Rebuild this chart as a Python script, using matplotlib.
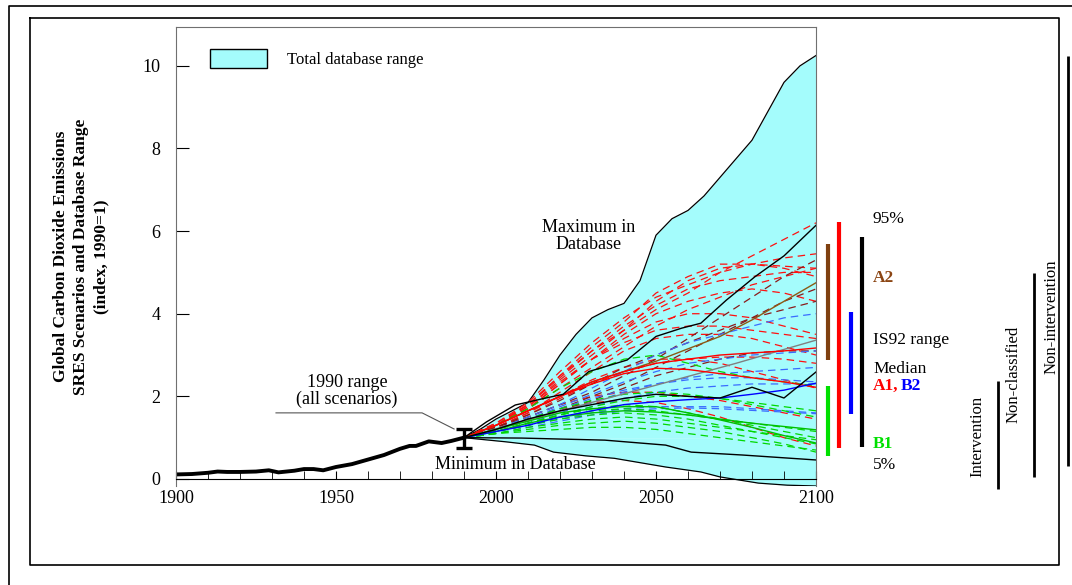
import matplotlib
matplotlib.use('Agg')
import matplotlib.pyplot as plt
from matplotlib.lines import Line2D

plt.rcParams['font.family'] = ['Liberation Serif', 'DejaVu Serif']

# historical emissions index, 1900-1990
HIST_YEARS = [1900, 1905, 1910, 1913, 1916, 1920, 1925, 1929, 1932, 1937, 1940, 1943,
              1946, 1950, 1955, 1960, 1965, 1970, 1973, 1975, 1979, 1983, 1986, 1990]
HIST_VALS = [0.11, 0.12, 0.15, 0.18, 0.17, 0.17, 0.18, 0.21, 0.16, 0.20, 0.24, 0.24,
             0.21, 0.29, 0.36, 0.47, 0.58, 0.73, 0.80, 0.80, 0.91, 0.87, 0.92, 1.00]

# total database range
MAX_YEARS = [1990, 1995, 2000, 2005, 2010, 2015, 2020, 2025, 2030, 2035, 2040, 2045,
             2050, 2055, 2060, 2065, 2070, 2075, 2080, 2085, 2090, 2095, 2100]
MAX_VALS = [1.0, 1.2, 1.45, 1.65, 1.85, 2.4, 3.0, 3.5, 3.9, 4.1, 4.25, 4.8,
            5.9, 6.3, 6.5, 6.85, 7.3, 7.75, 8.2, 8.9, 9.6, 10.0, 10.25]
MIN_YEARS = [1990, 2003, 2012, 2018, 2028, 2037, 2053, 2064, 2070, 2082, 2091, 2100]
MIN_VALS = [1.0, 0.9, 0.82, 0.65, 0.56, 0.5, 0.29, 0.17, 0.05, -0.1, -0.15, -0.17]

YEARS = [1990, 2000, 2010, 2020, 2030, 2040, 2050, 2060, 2070, 2080, 2090, 2100]

A1_DASHED = [
  [1.0, 1.35, 1.8, 2.5, 3.1, 3.6, 4.1, 4.5, 5.0, 5.4, 5.8, 6.2],
  [1.0, 1.35, 1.85, 2.6, 3.3, 3.9, 4.4, 4.7, 5.0, 5.2, 5.35, 5.45],
  [1.0, 1.3, 1.75, 2.4, 3.0, 3.6, 4.3, 4.8, 5.1, 5.2, 5.15, 5.1],
  [1.0, 1.3, 1.8, 2.5, 3.2, 3.8, 4.5, 4.9, 5.2, 5.2, 5.1, 4.9],
  [1.0, 1.3, 1.7, 2.3, 2.9, 3.5, 4.0, 4.3, 4.5, 4.6, 4.5, 4.3],
  [1.0, 1.3, 1.7, 2.3, 2.9, 3.4, 3.8, 4.0, 4.0, 3.9, 3.7, 3.5],
  [1.0, 1.25, 1.6, 2.1, 2.6, 3.1, 3.4, 3.5, 3.5, 3.4, 3.2, 3.0],
  [1.0, 1.3, 1.7, 2.2, 2.7, 3.2, 3.7, 4.1, 4.4, 4.7, 4.9, 5.1],
  [1.0, 1.25, 1.55, 1.95, 2.3, 2.6, 2.8, 2.9, 2.95, 2.95, 2.9, 2.8],
  [1.0, 1.25, 1.6, 2.0, 2.4, 2.7, 2.9, 2.9, 2.8, 2.6, 2.4, 2.2],
  [1.0, 1.2, 1.5, 1.8, 2.0, 2.1, 2.1, 2.0, 1.9, 1.75, 1.6, 1.45],
  [1.0, 1.2, 1.45, 1.7, 1.85, 1.9, 1.85, 1.7, 1.5, 1.25, 1.0, 0.8],
  [1.0, 1.3, 1.75, 2.35, 2.9, 3.3, 3.6, 3.7, 3.7, 3.6, 3.5, 3.4],
  [1.0, 1.3, 1.8, 2.45, 3.1, 3.7, 4.2, 4.6, 4.8, 4.9, 5.0, 5.0],
]
A2_DASHED = [
  [1.0, 1.25, 1.5, 1.8, 2.1, 2.5, 2.9, 3.4, 3.9, 4.4, 4.9, 5.3],
  [1.0, 1.2, 1.45, 1.7, 2.0, 2.3, 2.7, 3.1, 3.5, 3.9, 4.3, 4.6],
  [1.0, 1.2, 1.4, 1.65, 1.9, 2.2, 2.5, 2.7, 2.9, 3.05, 3.1, 3.1],
  [1.0, 1.25, 1.55, 1.9, 2.3, 2.7, 3.0, 3.3, 3.6, 3.9, 4.1, 4.3],
]
B2_DASHED = [
  [1.0, 1.2, 1.5, 1.8, 2.2, 2.6, 3.0, 3.3, 3.5, 3.7, 3.9, 4.0],
  [1.0, 1.2, 1.45, 1.75, 2.05, 2.35, 2.6, 2.8, 2.9, 3.0, 3.05, 3.1],
  [1.0, 1.15, 1.35, 1.6, 1.85, 2.1, 2.3, 2.45, 2.55, 2.6, 2.65, 2.7],
  [1.0, 1.15, 1.35, 1.55, 1.75, 1.95, 2.1, 2.2, 2.25, 2.3, 2.3, 2.3],
  [1.0, 1.15, 1.3, 1.45, 1.6, 1.7, 1.75, 1.75, 1.75, 1.7, 1.65, 1.6],
  [1.0, 1.1, 1.25, 1.4, 1.55, 1.65, 1.7, 1.72, 1.7, 1.66, 1.62, 1.58],
  [1.0, 1.2, 1.45, 1.7, 1.95, 2.15, 2.3, 2.4, 2.45, 2.45, 2.4, 2.35],
]
B1_DASHED = [
  [1.0, 1.15, 1.35, 1.55, 1.7, 1.8, 1.75, 1.6, 1.45, 1.3, 1.15, 1.0],
  [1.0, 1.15, 1.3, 1.45, 1.55, 1.6, 1.55, 1.45, 1.3, 1.15, 1.0, 0.85],
  [1.0, 1.1, 1.25, 1.35, 1.45, 1.5, 1.45, 1.35, 1.25, 1.15, 1.05, 0.95],
  [1.0, 1.1, 1.2, 1.3, 1.35, 1.4, 1.35, 1.25, 1.15, 1.0, 0.85, 0.65],
  [1.0, 1.2, 1.45, 1.7, 1.9, 2.05, 2.1, 2.05, 1.95, 1.8, 1.65, 1.5],
  [1.0, 1.15, 1.35, 1.55, 1.75, 1.9, 2.0, 2.0, 1.95, 1.85, 1.75, 1.65],
  [1.0, 1.3, 1.7, 2.2, 2.6, 2.9, 3.0, 2.8, 2.6, 2.45, 2.35, 2.25],
  [1.0, 1.1, 1.15, 1.2, 1.25, 1.25, 1.2, 1.1, 1.0, 0.9, 0.8, 0.7],
  [1.0, 1.15, 1.3, 1.5, 1.65, 1.7, 1.65, 1.55, 1.45, 1.35, 1.25, 1.15],
]

# solid marker scenarios
BLACK_TOP_YEARS = [1990, 1997, 2006, 2015, 2021, 2029, 2041, 2050, 2058, 2064, 2072, 2081, 2090, 2100]
BLACK_TOP_VALS = [1.0, 1.38, 1.79, 1.95, 2.05, 2.6, 2.88, 3.45, 3.65, 3.77, 4.33, 4.9, 5.4, 6.14]
BLACK_MID_VALS = [1.0, 1.2, 1.45, 1.65, 1.8, 1.95, 2.05, 2.0, 1.96, 2.22, 1.96, 2.59]
BLACK_LOW_YEARS = [1990, 2008, 2034, 2053, 2061, 2077, 2100]
BLACK_LOW_VALS = [1.0, 0.99, 0.94, 0.82, 0.65, 0.58, 0.46]
BROWN_VALS = [1.0, 1.3, 1.65, 2.0, 2.35, 2.6, 2.85, 3.15, 3.45, 3.85, 4.3, 4.75]
GRAY_YEARS = [1990, 2025, 2050, 2075, 2100]
GRAY_VALS = [1.0, 1.75, 2.27, 2.8, 3.36]
RED_SOLID = [
  [1.0, 1.3, 1.65, 2.0, 2.35, 2.6, 2.8, 2.9, 3.0, 3.05, 3.1, 3.17],
  [1.0, 1.3, 1.65, 2.0, 2.3, 2.55, 2.68, 2.65, 2.55, 2.45, 2.35, 2.22],
]
BLUE_SOLID = [1.0, 1.15, 1.3, 1.5, 1.65, 1.8, 1.87, 1.92, 1.96, 2.05, 2.15, 2.32]
GREEN_SOLID = [
  [1.0, 1.2, 1.4, 1.6, 1.7, 1.75, 1.75, 1.6, 1.43, 1.25, 1.05, 0.87],
  [1.0, 1.15, 1.35, 1.5, 1.6, 1.65, 1.62, 1.55, 1.45, 1.35, 1.27, 1.19],
]

# 2100 ranges (x position, low, high, colour)
RANGE_X = [2103.75, 2107.2, 2110.9, 2114.4, 2103.75]
RANGE_LO = [2.88, 0.75, 1.57, 0.77, 0.56]
RANGE_HI = [5.68, 6.21, 4.04, 5.85, 2.25]
RANGE_COL = ['#7f4010', '#ff0000', '#0000ff', 'black', '#00e000']

GROUP_LABELS = ['Intervention', 'Non-classified', 'Non-intervention']
GROUP_X = [2156.9, 2168.1, 2178.75]
GROUP_LO = [-0.24, 0.05, 0.31]
GROUP_HI = [2.37, 4.98, 10.25]
GROUP_TX = [2150.3, 2161.6, 2173.75]
GROUP_TY = [1.02, 2.52, 3.92]

FILL = '#a4fcfc'
DASH = (6, 4)

fig = plt.figure(figsize=(10.72, 5.85), dpi=100)
ax = fig.add_axes([176 / 1072, 99 / 585, 640 / 1072, 459 / 585])

ax.fill_between(MAX_YEARS, MAX_VALS, 1.0, color=FILL, lw=0, label='Total database range')
ax.fill_between(MIN_YEARS, MIN_VALS, 1.0, color=FILL, lw=0)
ax.plot(MAX_YEARS, MAX_VALS, color='black', lw=0.9)
ax.plot(MIN_YEARS, MIN_VALS, color='black', lw=0.9)

for vals in A1_DASHED:
  ax.plot(YEARS, vals, color='#ff1010', lw=0.9, dashes=DASH)
for vals in A2_DASHED:
  ax.plot(YEARS, vals, color='#8b1a1a', lw=0.9, dashes=DASH)
for vals in B2_DASHED:
  ax.plot(YEARS, vals, color='#3a6cff', lw=0.9, dashes=DASH)
for vals in B1_DASHED:
  ax.plot(YEARS, vals, color='#00d800', lw=0.9, dashes=DASH)

ax.plot(GRAY_YEARS, GRAY_VALS, color='#808080', lw=1.0)
ax.plot(YEARS, BROWN_VALS, color='#8b5a14', lw=1.0)
for vals in RED_SOLID:
  ax.plot(YEARS, vals, color='#ff0000', lw=1.0)
for vals in GREEN_SOLID:
  ax.plot(YEARS, vals, color='#00c000', lw=1.0)
ax.plot(YEARS, BLUE_SOLID, color='#0000ff', lw=1.0)
ax.plot(BLACK_TOP_YEARS, BLACK_TOP_VALS, color='black', lw=1.0)
ax.plot(YEARS, BLACK_MID_VALS, color='black', lw=1.0)
ax.plot(BLACK_LOW_YEARS, BLACK_LOW_VALS, color='black', lw=1.0)

ax.plot(HIST_YEARS, HIST_VALS, color='black', lw=2.8)
ax.errorbar([1990], [0.98], yerr=[0.23], color='black', lw=2.4, capsize=6, capthick=2.4)

# ranges at the right side
for x, lo, hi, c in zip(RANGE_X, RANGE_LO, RANGE_HI, RANGE_COL):
  ax.plot([x, x], [lo, hi], color=c, lw=3, clip_on=False, solid_capstyle='butt')
for x, lo, hi in zip(GROUP_X, GROUP_LO, GROUP_HI):
  ax.plot([x, x], [lo, hi], color='black', lw=2, clip_on=False, solid_capstyle='butt')
for lab, x, y in zip(GROUP_LABELS, GROUP_TX, GROUP_TY):
  ax.text(x, y, lab, rotation=90, ha='center', va='center', fontsize=12, clip_on=False)

tx = 2117.8
ax.text(tx, 6.29, '95%', fontsize=12.5, va='center', clip_on=False)
ax.text(tx, 4.86, 'A2', fontsize=12.5, va='center', color='#8b4513', weight='bold', clip_on=False)
ax.text(tx, 3.36, 'IS92 range', fontsize=12.5, va='center', clip_on=False)
ax.text(tx, 2.66, 'Median', fontsize=12.5, va='center', clip_on=False)
ax.text(tx, 2.25, 'A1,', fontsize=12.5, va='center', color='#ff0000', weight='bold', clip_on=False)
ax.text(2126.6, 2.25, 'B2', fontsize=12.5, va='center', color='#0000ff', weight='bold', clip_on=False)
ax.text(tx, 0.85, 'B1', fontsize=12.5, va='center', color='#00e000', weight='bold', clip_on=False)
ax.text(tx, 0.34, '5%', fontsize=12.5, va='center', clip_on=False)

ax.text(2029, 5.88, 'Maximum in\nDatabase', fontsize=13, ha='center', va='center', linespacing=1.0)
ax.text(2006, 0.34, 'Minimum in Database', fontsize=13, ha='center', va='center')
ax.text(1953.4, 2.13, '1990 range\n(all scenarios)', fontsize=13, ha='center', va='center', linespacing=1.0)
ax.plot([1931.25, 1976.9, 1986.9], [1.6, 1.6, 1.21], color='#555555', lw=0.8)

ax.set_xlim(1900, 2100)
ax.set_ylim(-0.17, 10.94)
ax.spines['bottom'].set_position(('data', 0))
for s in ['top', 'right', 'left']:
  ax.spines[s].set_color('#707070')
ax.set_xticks([1900, 1950, 2000, 2050, 2100])
ax.set_xticks(range(1900, 2101, 10), minor=True)
ax.set_yticks([0, 2, 4, 6, 8, 10])
ax.tick_params(axis='x', which='both', direction='in', length=6, labelsize=13, pad=8)
ax.tick_params(axis='y', direction='in', length=9, labelsize=13, pad=11)
ax.set_ylabel('Global Carbon Dioxide Emissions\nSRES Scenarios and Database Range\n(index, 1990=1)',
              fontsize=12.5, weight='bold', labelpad=24, linespacing=1.35)

leg = ax.legend(loc='upper left', bbox_to_anchor=(0.03, 0.985), frameon=False,
                fontsize=12, handlelength=3.4, handleheight=1.4, handletextpad=1.2)
for h in leg.legend_handles:
  h.set_edgecolor('black')
  h.set_linewidth(1)

# page frames
fig.add_artist(Line2D([30 / 1072, 1059 / 1072, 1059 / 1072, 30 / 1072, 30 / 1072],
                      [1 - 18 / 585, 1 - 18 / 585, 1 - 565 / 585, 1 - 565 / 585, 1 - 18 / 585],
                      color='black', lw=1.2))
fig.add_artist(Line2D([9 / 1072, 9 / 1072, 1.0], [0.0, 1 - 6 / 585, 1 - 6 / 585],
                      color='black', lw=1.2))

plt.savefig('out.png', dpi=100)
